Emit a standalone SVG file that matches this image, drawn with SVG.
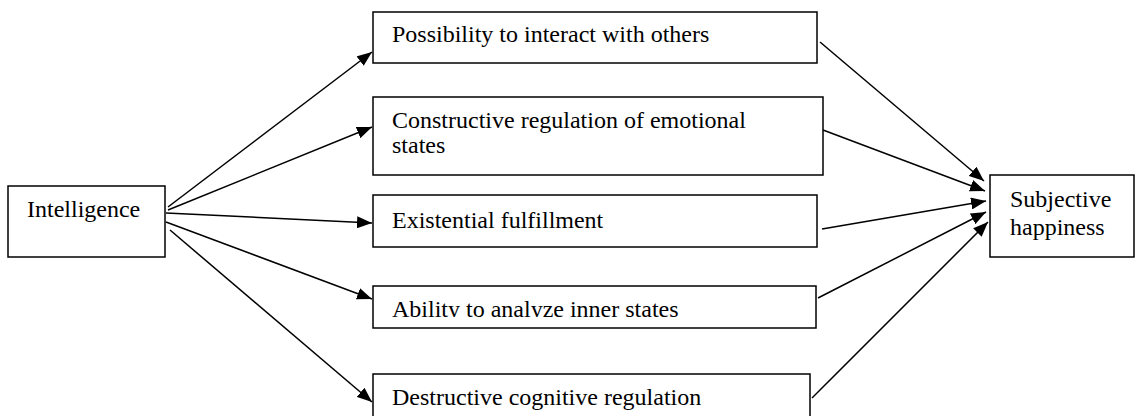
<svg xmlns="http://www.w3.org/2000/svg" width="1137" height="416" viewBox="0 0 1137 416">
<style>
.box{fill:#fff;stroke:#000;stroke-width:1.5}
.t{font-family:'Liberation Serif',serif;font-size:24px;fill:#000}
.c{stroke:#000;stroke-width:1.5;fill:none;marker-end:url(#ah)}
</style>
<defs>
<marker id="ah" viewBox="0 0 10 10" refX="10" refY="5" markerWidth="15" markerHeight="12" markerUnits="userSpaceOnUse" orient="auto" preserveAspectRatio="none">
<path d="M0,0 L10,5 L0,10 z" fill="#000"/>
</marker>
<clipPath id="clip4"><rect x="373" y="286" width="444" height="31"/></clipPath>
</defs>
<g id="connectors">
<line class="c" x1="168" y1="207" x2="372" y2="52"/>
<line class="c" x1="168" y1="210" x2="372" y2="127"/>
<line class="c" x1="166" y1="213" x2="372" y2="223"/>
<line class="c" x1="166" y1="222" x2="372" y2="299"/>
<line class="c" x1="170" y1="230" x2="372" y2="402"/>
<line class="c" x1="820" y1="42" x2="984" y2="181"/>
<line class="c" x1="823" y1="130" x2="985" y2="191"/>
<line class="c" x1="822" y1="229" x2="986" y2="201"/>
<line class="c" x1="818" y1="298" x2="986" y2="212"/>
<line class="c" x1="812" y1="398" x2="988" y2="222"/>
</g>
<g id="intelligence">
<rect class="box" x="8" y="186" width="157" height="71"/>
<text class="t" x="27" y="217">Intelligence</text>
</g>
<g id="possibility">
<rect class="box" x="373" y="12" width="444" height="51"/>
<text class="t" x="392" y="42">Possibility to interact with others</text>
</g>
<g id="constructive">
<rect class="box" x="373" y="97" width="450" height="78"/>
<text class="t" x="392" y="128">Constructive regulation of emotional</text>
<text class="t" x="392" y="153">states</text>
</g>
<g id="existential">
<rect class="box" x="373" y="195" width="444" height="52"/>
<text class="t" x="392" y="228">Existential fulfillment</text>
</g>
<g id="ability">
<rect class="box" x="373" y="286" width="443" height="42"/>
<text class="t" x="392" y="317" clip-path="url(#clip4)">Ability to analyze inner states</text>
</g>
<g id="destructive">
<rect class="box" x="373" y="374" width="437" height="60"/>
<text class="t" x="392" y="405">Destructive cognitive regulation</text>
</g>
<g id="happiness">
<rect class="box" x="990" y="175" width="144" height="82"/>
<text class="t" x="1010" y="207">Subjective</text>
<text class="t" x="1010" y="235">happiness</text>
</g>
</svg>
